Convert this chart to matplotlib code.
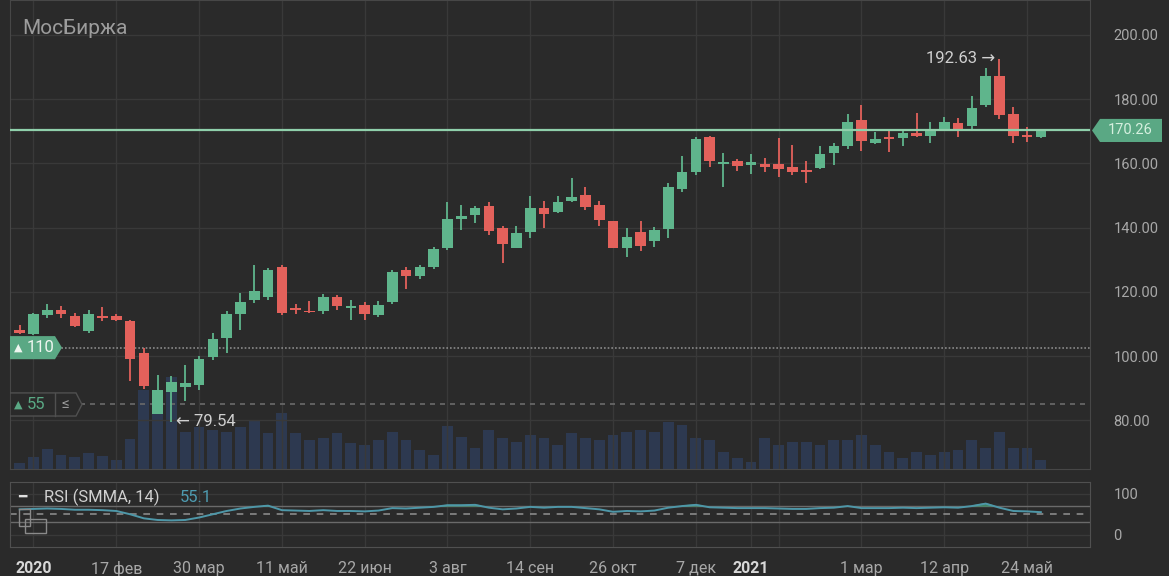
import matplotlib.pyplot as plt
import numpy as np
from matplotlib.patches import Rectangle, Polygon

plt.rcParams['font.family'] = ['Roboto', 'DejaVu Sans']

# weekly candles, week index 0 = 6 Jan 2020
weeks = np.arange(-1, 74)
opens = [108.0, 106.9, 112.9, 114.4, 112.6, 107.8, 112.6, 112.6, 110.8, 101.0,
         82.0, 88.8, 90.3, 91.1, 99.7, 105.6, 113.1, 117.5, 118.4, 127.7,
         115.0, 114.1, 113.9, 118.4, 115.0, 116.0, 112.9, 116.7, 126.7, 125.0,
         127.7, 133.6, 142.7, 143.8, 146.6, 139.9, 133.8, 138.5, 146.1, 145.0,
         148.3, 150.0, 147.1, 141.9, 133.6, 138.6, 135.9, 139.6, 152.0, 157.3,
         168.1, 159.8, 160.6, 159.6, 159.9, 159.7, 158.8, 158.0, 158.5, 163.2,
         165.3, 173.6, 166.3, 168.2, 167.8, 169.4, 168.4, 170.7, 172.7, 171.5,
         178.2, 187.2, 175.4, 168.9, 168.2]
highs = [109.8, 113.5, 116.3, 115.7, 113.4, 114.4, 115.4, 113.0, 111.3, 102.5,
         94.2, 93.7, 97.3, 100.0, 107.2, 113.9, 119.6, 128.4, 127.4, 128.4,
         116.3, 117.0, 119.3, 119.1, 117.3, 116.7, 117.0, 126.8, 127.7, 128.3,
         134.0, 148.1, 147.1, 146.6, 148.1, 140.6, 140.4, 149.9, 148.4, 149.9,
         155.6, 152.8, 148.4, 142.0, 139.9, 141.9, 140.2, 153.9, 162.4, 168.2,
         168.6, 163.3, 161.3, 163.0, 161.6, 167.8, 165.8, 160.6, 165.3, 166.5,
         175.4, 178.2, 169.9, 170.2, 170.7, 175.8, 173.0, 174.4, 174.1, 181.0,
         189.6, 192.63, 177.5, 171.3, 170.5]
lows = [106.8, 106.5, 111.9, 111.9, 109.0, 107.3, 110.8, 110.8, 92.1, 89.8,
        81.8, 79.54, 85.9, 89.5, 98.7, 101.0, 108.2, 116.5, 117.5, 112.9,
        113.0, 113.5, 113.2, 114.2, 111.3, 111.3, 112.0, 116.2, 120.9, 124.0,
        127.0, 133.0, 139.1, 141.4, 137.8, 129.0, 133.6, 136.7, 139.9, 144.5,
        148.0, 145.6, 140.6, 133.6, 130.8, 132.6, 134.1, 136.7, 151.2, 156.4,
        159.0, 152.6, 157.7, 156.8, 157.2, 155.8, 156.5, 153.9, 158.2, 159.6,
        164.4, 164.0, 166.0, 163.4, 165.3, 168.2, 166.3, 170.4, 168.2, 170.7,
        177.5, 173.8, 166.3, 166.8, 167.8]
closes = [107.3, 113.1, 114.4, 113.1, 109.5, 113.0, 111.8, 111.2, 99.1, 90.6,
          89.5, 91.9, 91.6, 99.2, 105.3, 113.1, 116.7, 120.1, 126.9, 113.4,
          114.4, 113.6, 118.4, 115.7, 115.7, 113.1, 116.0, 126.2, 125.0, 127.7,
          133.3, 142.7, 143.5, 146.1, 138.8, 134.9, 138.3, 146.1, 144.2, 148.0,
          149.4, 146.4, 142.4, 133.8, 137.2, 134.3, 139.1, 152.8, 157.3, 167.6,
          160.6, 160.3, 159.3, 160.4, 159.0, 158.1, 157.2, 157.4, 163.0, 165.3,
          173.0, 167.1, 167.5, 167.5, 169.4, 168.6, 170.7, 173.0, 170.7, 177.2,
          187.2, 175.1, 168.4, 168.2, 170.26]
volume = [0.6, 1.2, 2.0, 1.4, 1.2, 1.6, 1.3, 0.9, 3.0, 7.9,
          6.4, 9.2, 3.7, 4.2, 3.9, 3.7, 4.2, 4.9, 3.6, 5.6,
          3.6, 2.9, 3.1, 3.6, 2.6, 2.4, 2.9, 3.7, 2.9, 1.9,
          1.4, 4.3, 3.2, 2.1, 3.9, 3.1, 2.7, 3.4, 3.1, 2.4,
          3.6, 3.1, 2.9, 3.4, 3.7, 3.9, 3.7, 4.7, 4.4, 3.1,
          2.9, 1.7, 1.1, 0.7, 3.1, 2.4, 2.7, 2.7, 2.4, 2.9,
          2.9, 3.4, 2.4, 1.7, 1.1, 1.7, 1.4, 1.7, 1.9, 2.9,
          2.1, 3.7, 2.1, 2.1, 0.9]
rsi = [62, 63, 64, 63, 61, 61, 60, 58, 50, 40,
       36, 35, 36, 42, 50, 58, 64, 68, 71, 60,
       59, 58, 60, 58, 58, 57, 59, 65, 64, 66,
       68, 72, 72, 73, 66, 62, 64, 68, 66, 68,
       68, 65, 62, 56, 58, 57, 59, 66, 70, 73,
       67, 66, 65, 65, 65, 64, 63, 63, 65, 66,
       70, 65, 65, 65, 66, 65, 66, 67, 66, 70,
       76, 66, 58, 57, 55.1]

last_price = 170.26
alert_hi, alert_lo = 102.6, 84.9
date_pos = [0, 6, 12, 18, 24, 30, 36, 42, 48, 52, 60, 66, 72]
date_lbl = ['2020', '17 фев', '30 мар', '11 май', '22 июн', '3 авг', '14 сен',
            '26 окт', '7 дек', '2021', '1 мар', '12 апр', '24 май']
price_ticks = [80, 100, 120, 140, 160, 180, 200]

bg = '#2a2a2a'
grid = '#393939'
green = '#5fb58c'
red = '#e3615b'
badge = '#5aa884'
txt = '#a8a8a8'

W, H = 1169, 576
fig = plt.figure(figsize=(W / 100, H / 100), dpi=100, facecolor=bg)
ax = fig.add_axes([10 / W, 1 - 469 / H, 1080 / W, 469 / H], facecolor=bg)
axr = fig.add_axes([10 / W, 1 - 547 / H, 1080 / W, 65.5 / H], facecolor=bg)
xlim = (-1.70, 76.56)

def fx(px):
    # pixel column -> axes fraction of the price panel
    return (px - 10) / 1080

# volume on a twin axis (behind candles)
axv = ax.twinx()
axv.bar(weeks, volume, width=0.78, color='#2d3950', zorder=1)
axv.set_ylim(0, 46.9)
axv.set_yticks([])
ax.set_zorder(axv.get_zorder() + 1)
ax.patch.set_visible(False)
axv.patch.set_facecolor(bg)

o = np.array(opens); c = np.array(closes)
col = [green if cc >= oo else red for oo, cc in zip(o, c)]
body_lo = np.minimum(o, c)
body_h = np.maximum(np.abs(c - o), 0.5)
ax.vlines(weeks, lows, highs, colors=col, lw=1.3, zorder=3)
ax.bar(weeks, body_h, bottom=body_lo, width=0.76, color=col, zorder=4)

ax.set_xlim(*xlim)
ax.set_ylim(64.8, 210.9)
ax.axhline(last_price, color='#8fd0ab', lw=1.6, zorder=5)
ax.axhline(alert_hi, color='#8a8a8a', lw=1.2, ls=(0, (1, 1.2)), zorder=2)
ax.axhline(alert_lo, color='#6a6a6a', lw=1.2, ls=(0, (3, 3)), zorder=2)

ax.yaxis.tick_right()
ax.set_yticks(price_ticks)
ax.set_yticklabels([f'{p:.2f}' for p in price_ticks], color=txt, fontsize=10.5)
ax.tick_params(axis='y', length=0, pad=17)
ax.set_xticks(date_pos)
ax.set_xticks([54], minor=True)
ax.tick_params(axis='x', which='both', length=0, labelbottom=False)
ax.grid(True, which='both', color=grid, lw=1)
for s in ax.spines.values():
    s.set_color('#474747')
for s in axv.spines.values():
    s.set_visible(False)

yt = ax.get_yaxis_transform()
hh = 3.6  # half height of the tags, price units

# price tag on the right
tag = Polygon([(fx(1092), last_price), (fx(1100), last_price + hh), (fx(1162), last_price + hh),
               (fx(1162), last_price - hh), (fx(1100), last_price - hh)],
              closed=True, transform=yt, fc=badge, ec='none', clip_on=False, zorder=9)
ax.add_patch(tag)
ax.text(fx(1108), last_price, f'{last_price:.2f}', transform=yt, ha='left', va='center',
        color='#d6f0df', fontsize=10.5, zorder=10, clip_on=False)

# extreme labels
ax.text(70 - 0.35, 192.63, '192.63 →', ha='right', va='center', color='#d0d0d0', fontsize=12)
ax.text(10 + 0.35, 79.54, '← 79.54', ha='left', va='center', color='#d0d0d0', fontsize=12)

# alert badges
b1 = Polygon([(0, alert_hi - hh), (0, alert_hi + hh), (fx(55), alert_hi + hh), (fx(62), alert_hi),
              (fx(55), alert_hi - hh)], closed=True, transform=yt, fc=badge, ec='none', zorder=9)
ax.add_patch(b1)
ax.text(fx(14), alert_hi, '▲', transform=yt, ha='left', va='center', color='#eef6f0', fontsize=8, zorder=10)
ax.text(fx(27), alert_hi, '110', transform=yt, ha='left', va='center', color='#eef6f0', fontsize=12, zorder=10)

b2 = Polygon([(0, alert_lo - hh), (0, alert_lo + hh), (fx(76), alert_lo + hh), (fx(82), alert_lo),
              (fx(76), alert_lo - hh)], closed=True, transform=yt, fc=bg, ec='#505050', lw=1, zorder=9)
ax.add_patch(b2)
ax.plot([fx(55), fx(55)], [alert_lo - hh, alert_lo + hh], transform=yt, color='#505050', lw=1, zorder=10)
ax.text(fx(14), alert_lo, '▲', transform=yt, ha='left', va='center', color=badge, fontsize=8, zorder=10)
ax.text(fx(27), alert_lo, '55', transform=yt, ha='left', va='center', color=badge, fontsize=12, zorder=10)
ax.text(fx(62), alert_lo, '≤', transform=yt, ha='left', va='center', color='#9a9a9a', fontsize=11, zorder=10)

fig.text(22 / W, 1 - 29 / H, 'МосБиржа', color='#9c9c9c', fontsize=15, va='center')

# RSI panel
r = np.array(rsi, dtype=float)
axr.plot(weeks, r, color='#4e97a8', lw=1.4, zorder=4)
axr.fill_between(weeks, 70, r, where=r > 70, interpolate=True, color='#3f8f6a', alpha=0.8, zorder=3)
axr.axhline(70, color='#6a6a6a', lw=1)
axr.axhline(30, color='#6a6a6a', lw=1)
axr.axhline(50, color='#8a8a8a', lw=1.2, ls=(0, (4, 4)))
axr.set_xlim(*xlim)
axr.set_ylim(-30, 130)
axr.yaxis.tick_right()
axr.set_yticks([0, 100])
axr.set_yticklabels(['0', '100'], color=txt, fontsize=10.5)
axr.tick_params(axis='y', length=0, pad=17)
axr.set_xticks(date_pos)
axr.set_xticks([54], minor=True)
axr.set_xticklabels(date_lbl, fontsize=11.5)
axr.tick_params(axis='x', which='both', length=0, pad=10)
for t, l in zip(axr.get_xticklabels(), date_lbl):
    if l in ('2020', '2021'):
        t.set_color('#d8d8d8')
        t.set_fontweight('bold')
    else:
        t.set_color(txt)
axr.grid(True, which='both', color=grid, lw=1)
for s in axr.spines.values():
    s.set_color('#505050')

fig.text(18 / W, 1 - 497 / H, '━', color='#e0e0e0', fontsize=10, va='center')
fig.text(44 / W, 1 - 497 / H, 'RSI (SMMA, 14)', color='#d0d0d0', fontsize=12, va='center')
fig.text(180 / W, 1 - 497 / H, f'{rsi[-1]}', color='#4e9bb0', fontsize=12, va='center')
fig.add_artist(Rectangle((19 / W, 1 - 526 / H), 11 / W, 17 / H, transform=fig.transFigure,
                         fill=False, ec='#8a8a8a', lw=1))
fig.add_artist(Rectangle((25 / W, 1 - 533 / H), 21 / W, 14 / H, transform=fig.transFigure,
                         fill=False, ec='#8a8a8a', lw=1))

fig.savefig('out.png', dpi=100, facecolor=bg)
